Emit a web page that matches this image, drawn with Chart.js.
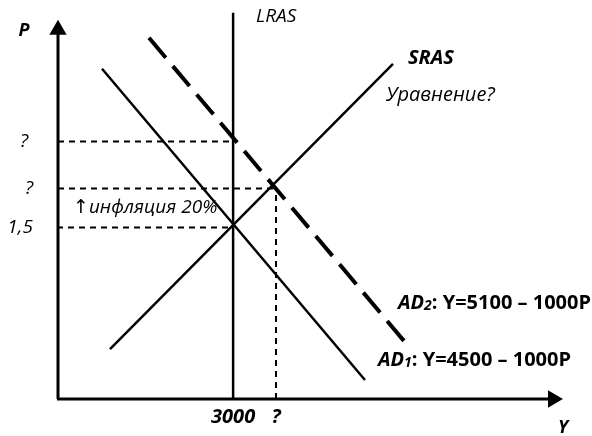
<!DOCTYPE html>
<html>
<head>
<meta charset="utf-8">
<script src="https://cdn.jsdelivr.net/npm/chart.js@4.4.1/dist/chart.umd.min.js"></script>
<style>
  html, body { margin: 0; padding: 0; background: #fff; }
  #wrap { width: 592px; height: 436px; position: relative; }
</style>
</head>
<body>
<div id="wrap"><canvas id="myChart"></canvas></div>
<script>
// Output (Y) and price level (P), schematic units
const outputLevels = [3000, 3735];        // LRAS, new short-run equilibrium
const priceLevels = [1.5, 1.84, 2.25];    // start, after AD shift, AD2 at LRAS
const xTickLabels = ['3000', '?'];
const yTickLabels = ['1,5', '?', '?'];

const lrasY = [3000, 3000];
const lrasP = [0, 3.375];
const srasY = [891, 5739];
const srasP = [0.436, 2.93];
const ad1Y = [754, 5259];
const ad1P = [2.887, 0.166];
const ad2Y = [1559, 6030];
const ad2P = [3.157, 0.445];

const axisY = [-17, 8480];   // horizontal axis extent
const axisP = [0, 3.227];    // vertical axis extent

const pts = (xs, ys) => xs.map((v, i) => ({x: v, y: ys[i]}));

function line(data, width, dash, extra) {
  return Object.assign({
    data: data,
    showLine: true,
    borderColor: '#000',
    backgroundColor: '#000',
    borderWidth: width,
    borderDash: dash || [],
    pointRadius: 0,
    tension: 0,
    clip: false
  }, extra || {});
}

const guide = [6, 5];
const datasets = [
  line(pts(axisY, [0, 0]), 3, null, {pointRadius: [0, 7], pointStyle: 'triangle', pointRotation: 90}),
  line(pts([0, 0], axisP), 3, null, {pointRadius: [0, 7], pointStyle: 'triangle'}),
  line(pts(lrasY, lrasP), 2.5),
  line(pts(srasY, srasP), 2.5),
  line(pts(ad1Y, ad1P), 2.5),
  line(pts(ad2Y, ad2P), 4, [26, 11]),
  // dashed guides
  line(pts([-17, outputLevels[0]], [priceLevels[0], priceLevels[0]]), 2, guide),
  line(pts([0, outputLevels[1]], [priceLevels[1], priceLevels[1]]), 2, guide),
  line(pts([outputLevels[1], outputLevels[1]], [0, priceLevels[1]]), 2, guide),
  line(pts([0, outputLevels[0]], [priceLevels[2], priceLevels[2]]), 2, guide)
];

function txt(ctx, s, x, y, font, align) {
  ctx.font = font;
  ctx.textAlign = align || 'left';
  ctx.fillText(s, x, y);
  return ctx.measureText(s).width;
}

const F = '"Open Sans", "DejaVu Sans", sans-serif';

const labelPlugin = {
  id: 'labels',
  afterDraw(chart) {
    const ctx = chart.ctx;
    const xs = chart.scales.x, ys = chart.scales.y;
    ctx.save();
    ctx.fillStyle = '#000';
    ctx.textBaseline = 'middle';

    // axis ticks
    const base = ys.getPixelForValue(0);
    outputLevels.forEach((v, i) => {
      txt(ctx, xTickLabels[i], xs.getPixelForValue(v), base + 18, 'italic bold 20px ' + F, 'center');
    });
    const yRight = [33, 33, 28];
    priceLevels.forEach((v, i) => {
      txt(ctx, yTickLabels[i], yRight[i], ys.getPixelForValue(v), 'italic 19px ' + F, 'right');
    });

    // axis names
    txt(ctx, 'P', 24, 31, 'italic bold 18px ' + F, 'center');
    txt(ctx, 'Y', 563, 428, 'italic bold 18px ' + F, 'center');

    // curve names
    const lx = xs.getPixelForValue(lrasY[0]);
    txt(ctx, 'LRAS', lx + 23, 17, 'italic 19px ' + F);
    txt(ctx, 'SRAS', 408, 58, 'italic bold 20px ' + F);
    txt(ctx, 'Уравнение?', 386, 95, 'italic 20px ' + F);
    txt(ctx, '↑инфляция 20%', 73, 208, 'italic 19px ' + F);

    // AD equations
    const eq = [['2', ': Y=5100 – 1000P', 398, 303], ['1', ': Y=4500 – 1000P', 378, 360]];
    eq.forEach(e => {
      let x = e[2];
      x += txt(ctx, 'AD', x, e[3], 'italic bold 20px ' + F);
      x += txt(ctx, e[0], x, e[3] + 3, 'italic bold 14px ' + F);
      txt(ctx, e[1], x, e[3], 'bold 20px ' + F);
    });
    ctx.restore();
  }
};

const ctx = document.getElementById('myChart').getContext('2d');
new Chart(ctx, {
  type: 'scatter',
  data: {datasets: datasets},
  options: {
    responsive: true,
    maintainAspectRatio: false,
    animation: false,
    layout: {padding: {left: 58, right: 32, top: 9, bottom: 37}},
    plugins: {legend: {display: false}, tooltip: {enabled: false}},
    scales: {
      x: {type: 'linear', min: 0, max: 8600, display: false},
      y: {type: 'linear', min: 0, max: 3.4, display: false}
    }
  },
  plugins: [labelPlugin]
});
</script>
</body>
</html>
